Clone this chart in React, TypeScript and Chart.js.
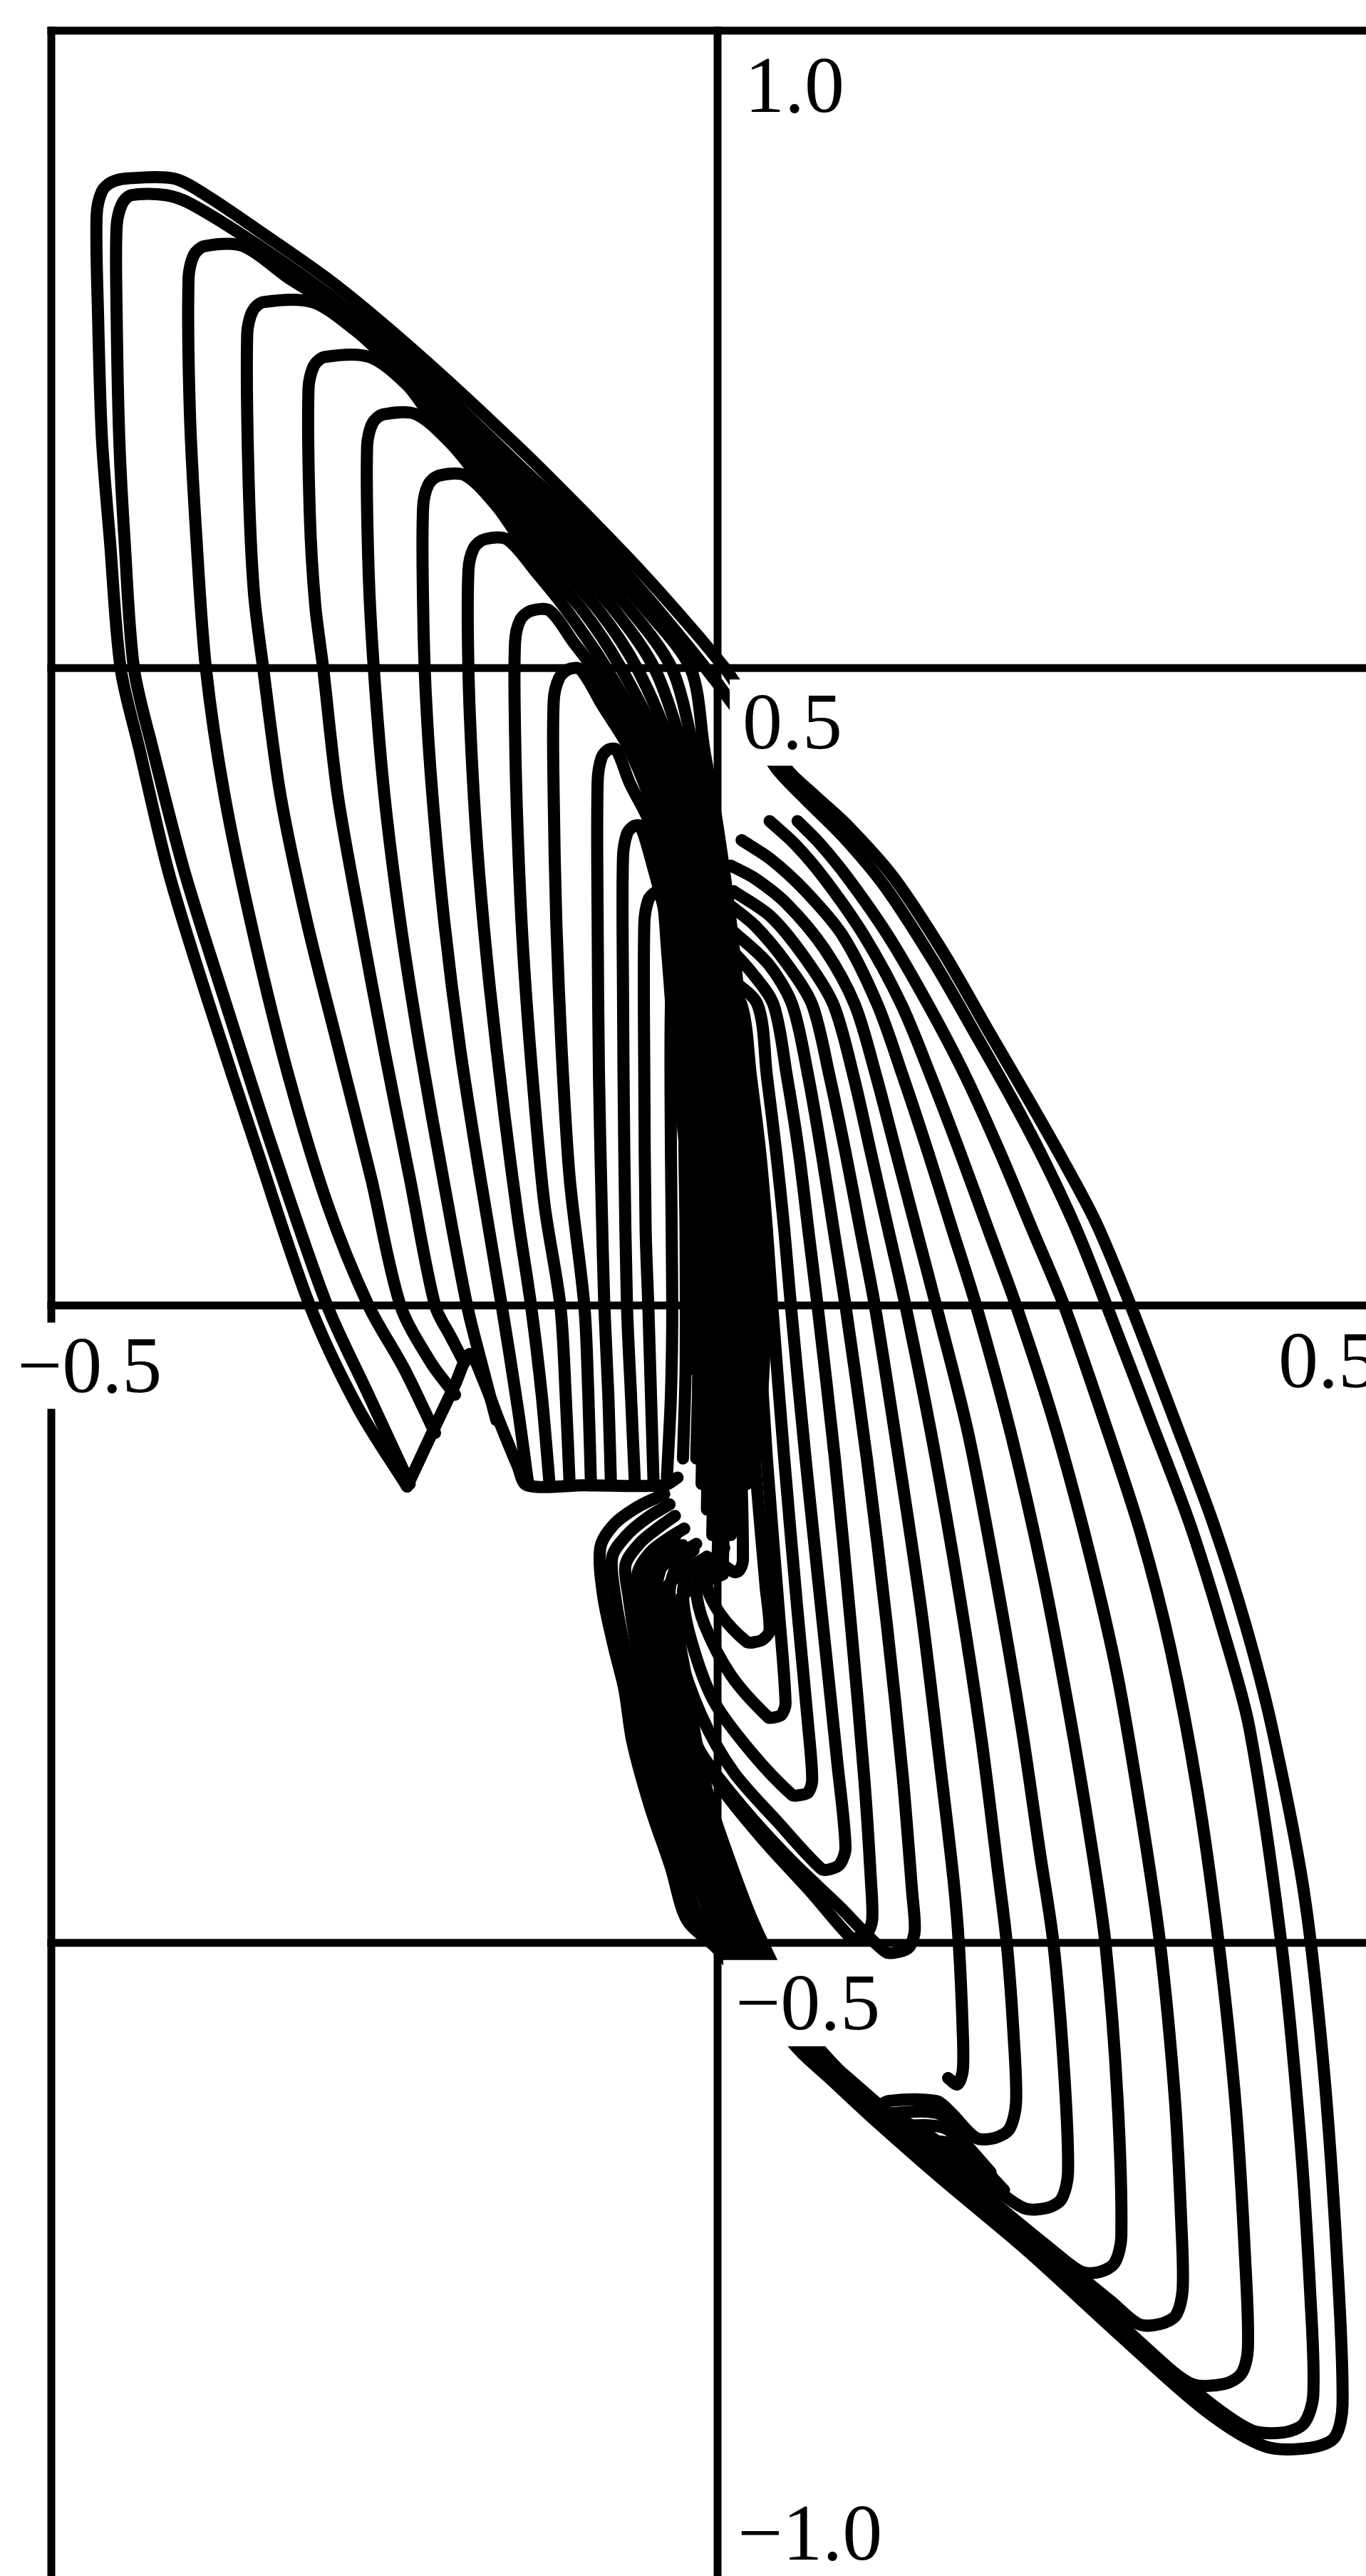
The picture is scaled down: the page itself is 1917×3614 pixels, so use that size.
import React, { useEffect, useRef } from 'react';
import { Chart, registerables } from 'chart.js';

Chart.register(...registerables);

type P = [number, number];

// Plot window (data units)
const X_MIN = -0.5;
const X_MAX = 0.4866;
const Y_MIN = -0.9966;
const Y_MAX = 1.0;

// Frame / grid lines
const GRID_X = [-0.5, 0];
const GRID_Y = [1.0, 0.5, 0, -0.5];

// Tick labels: text, anchor value, pixel offset of the text origin
const TICK_LABELS = [
  { text: '1.0', x: 0, y: 1.0, dx: 38, dy: 114, yAxis: true },
  { text: '0.5', x: 0, y: 0.5, dx: 35, dy: 113, yAxis: true },
  { text: '\u22120.5', x: 0, y: -0.5, dx: 25, dy: 121, yAxis: true },
  { text: '\u22121.0', x: 0, y: -1.0, dx: 28, dy: -29, yAxis: true },
  { text: '\u22120.5', x: -0.5, y: 0, dx: -48, dy: 121, yAxis: false },
  { text: '0.5', x: 0.5, y: 0, dx: -148, dy: 114, yAxis: false },
];

// Upper-left loops: left branch, from its lower end up to the top-left corner
const LEFT_SIDES: P[][] = [
  [[-0.233,-0.142],[-0.270,-0.08],[-0.306,0.0],[-0.345,0.12],[-0.383,0.241],[-0.412,0.34],[-0.434,0.437],[-0.448,0.50],[-0.456,0.60],[-0.462,0.68],[-0.465,0.78],[-0.466,0.855]],
  [[-0.231,-0.140],[-0.262,-0.07],[-0.293,0.0],[-0.333,0.12],[-0.370,0.24],[-0.400,0.34],[-0.424,0.437],[-0.438,0.50],[-0.445,0.60],[-0.449,0.68],[-0.451,0.78],[-0.451,0.846]],
  [[-0.212,-0.10],[-0.235,-0.05],[-0.262,0.0],[-0.293,0.08],[-0.322,0.18],[-0.348,0.29],[-0.370,0.40],[-0.384,0.50],[-0.391,0.60],[-0.396,0.70],[-0.397,0.806]],
  [[-0.197,-0.07],[-0.215,-0.045],[-0.238,0.0],[-0.260,0.10],[-0.284,0.20],[-0.308,0.30],[-0.328,0.40],[-0.341,0.50],[-0.348,0.56],[-0.352,0.65],[-0.353,0.762]],
  [[-0.190,-0.045],[-0.200,-0.025],[-0.212,0.0],[-0.231,0.10],[-0.250,0.20],[-0.268,0.30],[-0.285,0.40],[-0.296,0.50],[-0.302,0.55],[-0.306,0.62],[-0.307,0.719]],
  [[-0.166,-0.09],[-0.176,-0.05],[-0.188,0.0],[-0.206,0.10],[-0.223,0.20],[-0.238,0.30],[-0.250,0.40],[-0.258,0.50],[-0.262,0.58],[-0.263,0.674]],
  [[-0.142,-0.141],[-0.150,-0.08],[-0.162,0.0],[-0.178,0.10],[-0.193,0.20],[-0.205,0.30],[-0.214,0.40],[-0.219,0.48],[-0.221,0.55],[-0.221,0.626]],
  [[-0.126,-0.141],[-0.132,-0.07],[-0.140,0.0],[-0.150,0.07],[-0.160,0.15],[-0.171,0.25],[-0.179,0.34],[-0.184,0.42],[-0.187,0.50],[-0.187,0.576]],
  [[-0.111,-0.141],[-0.114,-0.07],[-0.118,0.0],[-0.130,0.08],[-0.139,0.18],[-0.146,0.28],[-0.150,0.37],[-0.152,0.45],[-0.152,0.520]],
  [[-0.095,-0.141],[-0.097,-0.07],[-0.100,0.0],[-0.111,0.10],[-0.117,0.20],[-0.121,0.30],[-0.123,0.40],[-0.123,0.474]],
  [[-0.080,-0.141],[-0.082,-0.07],[-0.085,0.0],[-0.087,0.08],[-0.089,0.18],[-0.090,0.30],[-0.090,0.411]],
  [[-0.062,-0.141],[-0.065,-0.07],[-0.068,0.0],[-0.070,0.12],[-0.071,0.25],[-0.071,0.351]],
  [[-0.048,-0.141],[-0.050,-0.07],[-0.052,0.0],[-0.054,0.06],[-0.055,0.18],[-0.055,0.299]],
  [[-0.038,-0.135],[-0.035,-0.07],[-0.034,0.0],[-0.035,0.12],[-0.035,0.236]],
  [[-0.026,-0.12],[-0.024,-0.05],[-0.024,0.05],[-0.025,0.175]],
  [[-0.015,-0.10],[-0.014,0.0],[-0.014,0.125]],
];

// Upper-left loops: rounded corner and flat top
const LEFT_TOPS: P[][] = [
  [[-0.462,0.874],[-0.455,0.881],[-0.444,0.884],[-0.408,0.884]],
  [[-0.447,0.864],[-0.440,0.871],[-0.414,0.871]],
  [[-0.393,0.824],[-0.385,0.831],[-0.356,0.831]],
  [[-0.349,0.780],[-0.341,0.787],[-0.304,0.787]],
  [[-0.303,0.737],[-0.295,0.744],[-0.261,0.744]],
  [[-0.259,0.692],[-0.251,0.699],[-0.226,0.699]],
  [[-0.217,0.644],[-0.209,0.651],[-0.189,0.651]],
  [[-0.183,0.594],[-0.175,0.601],[-0.158,0.601]],
  [[-0.148,0.538],[-0.140,0.545],[-0.126,0.545]],
  [[-0.119,0.492],[-0.112,0.499],[-0.103,0.499]],
  [[-0.087,0.430],[-0.082,0.436],[-0.076,0.436]],
  [[-0.068,0.370],[-0.063,0.376],[-0.058,0.376]],
  [[-0.052,0.318],[-0.047,0.324],[-0.042,0.324]],
  [[-0.032,0.255],[-0.028,0.261],[-0.025,0.261]],
  [[-0.022,0.194],[-0.019,0.200],[-0.015,0.200]],
  [[-0.011,0.144],[-0.008,0.150],[-0.006,0.150]],
];

// Upper-left loops: right branch running down into the central band
const LEFT_ENVELOPES: P[][] = [
  [[-0.384,0.871],[-0.347,0.845],[-0.286,0.800],[-0.218,0.740],[-0.148,0.672],[-0.100,0.622],[-0.055,0.573],[-0.016,0.527],[0.007,0.498]],
  [[-0.395,0.864],[-0.347,0.833],[-0.286,0.788],[-0.218,0.728],[-0.150,0.660],[-0.100,0.610],[-0.058,0.562],[-0.022,0.517],[0.000,0.488]],
  [[-0.322,0.806],[-0.293,0.787],[-0.238,0.744],[-0.197,0.699],[-0.150,0.651],[-0.103,0.601],[-0.053,0.545],[-0.020,0.499],[-0.010,0.436],[0.000,0.376],[0.010,0.30],[0.020,0.20],[0.030,0.10],[0.036,0.0],[0.032,-0.10]],
  [[-0.272,0.765],[-0.250,0.744],[-0.207,0.699],[-0.161,0.651],[-0.115,0.601],[-0.065,0.545],[-0.034,0.499],[-0.018,0.436],[-0.006,0.376],[0.004,0.30],[0.014,0.20],[0.024,0.10],[0.031,0.0],[0.028,-0.12]],
  [[-0.233,0.722],[-0.216,0.699],[-0.171,0.651],[-0.126,0.601],[-0.077,0.545],[-0.047,0.499],[-0.026,0.436],[-0.013,0.376],[-0.002,0.30],[0.008,0.20],[0.018,0.10],[0.026,0.0],[0.022,-0.14]],
  [[-0.200,0.676],[-0.180,0.651],[-0.137,0.601],[-0.089,0.545],[-0.060,0.499],[-0.034,0.436],[-0.020,0.376],[-0.008,0.30],[0.002,0.20],[0.012,0.10],[0.020,0.0],[0.016,-0.16]],
  [[-0.165,0.626],[-0.148,0.601],[-0.101,0.545],[-0.072,0.499],[-0.042,0.436],[-0.026,0.376],[-0.013,0.30],[-0.003,0.20],[0.006,0.10],[0.014,0.0],[0.010,-0.18]],
  [[-0.136,0.575],[-0.113,0.545],[-0.083,0.499],[-0.050,0.436],[-0.032,0.376],[-0.018,0.30],[-0.008,0.20],[0.001,0.10],[0.009,0.0],[0.004,-0.20]],
  [[-0.108,0.520],[-0.093,0.499],[-0.058,0.436],[-0.038,0.376],[-0.023,0.30],[-0.012,0.20],[-0.004,0.10],[0.004,0.0],[0.000,-0.20]],
  [[-0.086,0.470],[-0.066,0.436],[-0.044,0.376],[-0.028,0.30],[-0.016,0.20],[-0.008,0.10],[-0.001,0.0],[-0.004,-0.18]],
  [[-0.066,0.410],[-0.050,0.376],[-0.033,0.30],[-0.020,0.20],[-0.012,0.10],[-0.006,0.0],[-0.008,-0.16]],
  [[-0.050,0.350],[-0.038,0.30],[-0.024,0.20],[-0.016,0.10],[-0.010,0.0],[-0.012,-0.14]],
  [[-0.038,0.280],[-0.032,0.20],[-0.022,0.10],[-0.014,0.0],[-0.016,-0.12]],
  [[-0.022,0.220],[-0.018,0.15],[-0.018,0.05],[-0.018,-0.05]],
  [[-0.012,0.150],[-0.010,0.05],[-0.008,-0.05]],
  [[-0.003,0.100],[0.000,0.0]],
];

// Lower-right loops: right branch, from the central band down to the bottom-right corner
const RIGHT_SIDES: P[][] = [
  [[0.007,0.498],[0.030,0.462],[0.052,0.421],[0.073,0.400],[0.098,0.376],[0.132,0.336],[0.170,0.276],[0.203,0.216],[0.232,0.164],[0.257,0.118],[0.284,0.065],[0.310,0.0],[0.343,-0.09],[0.372,-0.171],[0.396,-0.25],[0.416,-0.331],[0.440,-0.46],[0.455,-0.60],[0.465,-0.75],[0.469,-0.862]],
  [[0.000,0.488],[0.025,0.452],[0.045,0.420],[0.067,0.396],[0.094,0.368],[0.126,0.328],[0.162,0.270],[0.194,0.212],[0.222,0.160],[0.246,0.112],[0.270,0.058],[0.292,0.0],[0.325,-0.09],[0.354,-0.17],[0.378,-0.25],[0.399,-0.331],[0.423,-0.50],[0.437,-0.65],[0.445,-0.78],[0.447,-0.855]],
  [[0.060,0.380],[0.077,0.362],[0.098,0.335],[0.128,0.29],[0.158,0.236],[0.186,0.18],[0.212,0.12],[0.236,0.06],[0.260,0.0],[0.290,-0.09],[0.318,-0.18],[0.340,-0.27],[0.360,-0.38],[0.376,-0.50],[0.389,-0.63],[0.396,-0.75],[0.398,-0.818]],
  [[0.039,0.380],[0.058,0.362],[0.080,0.335],[0.110,0.29],[0.138,0.236],[0.160,0.18],[0.182,0.12],[0.203,0.06],[0.224,0.0],[0.252,-0.09],[0.278,-0.19],[0.300,-0.29],[0.318,-0.40],[0.332,-0.50],[0.343,-0.62],[0.348,-0.72],[0.349,-0.772]],
  [[0.018,0.365],[0.040,0.350],[0.066,0.325],[0.094,0.29],[0.120,0.236],[0.139,0.18],[0.158,0.12],[0.176,0.06],[0.194,0.0],[0.220,-0.10],[0.244,-0.21],[0.264,-0.32],[0.280,-0.42],[0.291,-0.50],[0.300,-0.62],[0.303,-0.730]],
  [[0.010,0.345],[0.028,0.335],[0.052,0.315],[0.080,0.280],[0.103,0.236],[0.119,0.18],[0.134,0.12],[0.149,0.06],[0.164,0.0],[0.188,-0.10],[0.210,-0.22],[0.228,-0.33],[0.242,-0.43],[0.252,-0.50],[0.260,-0.60],[0.263,-0.680]],
  [[0.012,0.325],[0.040,0.305],[0.066,0.272],[0.087,0.236],[0.102,0.18],[0.115,0.12],[0.128,0.06],[0.141,0.0],[0.162,-0.11],[0.182,-0.23],[0.198,-0.34],[0.210,-0.44],[0.217,-0.50],[0.222,-0.57],[0.224,-0.625]],
  [[0.008,0.315],[0.028,0.298],[0.052,0.268],[0.071,0.236],[0.084,0.18],[0.096,0.12],[0.107,0.06],[0.118,0.0],[0.136,-0.12],[0.153,-0.24],[0.167,-0.36],[0.177,-0.45],[0.181,-0.50],[0.184,-0.57],[0.184,-0.600],[0.180,-0.611],[0.173,-0.606]],
  [[0.010,0.295],[0.038,0.268],[0.056,0.236],[0.068,0.18],[0.078,0.12],[0.087,0.06],[0.096,0.0],[0.112,-0.12],[0.127,-0.25],[0.139,-0.37],[0.146,-0.46],[0.148,-0.490]],
  [[0.005,0.285],[0.025,0.262],[0.042,0.236],[0.052,0.18],[0.061,0.12],[0.068,0.06],[0.075,0.0],[0.088,-0.12],[0.100,-0.25],[0.110,-0.37],[0.115,-0.45],[0.116,-0.482]],
  [[0.008,0.258],[0.030,0.236],[0.037,0.18],[0.044,0.12],[0.050,0.06],[0.055,0.0],[0.066,-0.12],[0.078,-0.24],[0.090,-0.36],[0.096,-0.425]],
  [[0.005,0.248],[0.018,0.236],[0.025,0.18],[0.032,0.12],[0.037,0.06],[0.041,0.0],[0.050,-0.12],[0.060,-0.24],[0.068,-0.33],[0.071,-0.372]],
  [[0.008,0.210],[0.015,0.18],[0.022,0.12],[0.027,0.06],[0.030,0.0],[0.037,-0.12],[0.046,-0.24],[0.051,-0.312]],
  [[0.008,0.160],[0.014,0.12],[0.019,0.06],[0.022,0.0],[0.028,-0.12],[0.036,-0.22],[0.039,-0.255]],
  [[0.008,0.100],[0.012,0.06],[0.015,0.0],[0.017,-0.10],[0.019,-0.200]],
];

// Lower-right loops: rounded corner and flat bottom
const RIGHT_BOTTOMS: P[][] = [
  [[0.463,-0.888],[0.445,-0.896],[0.411,-0.895]],
  [[0.440,-0.877],[0.425,-0.884],[0.400,-0.882]],
  [[0.393,-0.838],[0.380,-0.846],[0.356,-0.846]],
  [[0.344,-0.792],[0.332,-0.799],[0.316,-0.799]],
  [[0.298,-0.751],[0.287,-0.758],[0.273,-0.758]],
  [[0.258,-0.701],[0.247,-0.708],[0.230,-0.708]],
  [[0.219,-0.646],[0.208,-0.653],[0.194,-0.653]],
  [],
  [[0.144,-0.503],[0.136,-0.507],[0.126,-0.507]],
  [[0.112,-0.493],[0.105,-0.496],[0.100,-0.496]],
  [[0.092,-0.438],[0.085,-0.442],[0.078,-0.442]],
  [[0.068,-0.382],[0.062,-0.384],[0.056,-0.384]],
  [[0.048,-0.321],[0.043,-0.323],[0.038,-0.323]],
  [[0.034,-0.262],[0.028,-0.264],[0.022,-0.264]],
  [[0.016,-0.208],[0.012,-0.209]],
];

// Lower-right loops: lower-left branch climbing back towards the middle
const LOWER_ENVELOPES: P[][] = [
  [[0.365,-0.866],[0.300,-0.806],[0.233,-0.742],[0.167,-0.684],[0.118,-0.639],[0.085,-0.607],[0.062,-0.585],[0.030,-0.545],[0.000,-0.505],[-0.023,-0.482],[-0.035,-0.441],[-0.051,-0.392],[-0.064,-0.342],[-0.070,-0.301],[-0.078,-0.267],[-0.086,-0.227],[-0.088,-0.190],[-0.078,-0.172],[-0.060,-0.158],[-0.040,-0.148]],
  [[0.360,-0.853],[0.300,-0.797],[0.236,-0.737],[0.172,-0.678],[0.122,-0.633],[0.089,-0.601],[0.066,-0.580],[0.034,-0.540],[0.006,-0.500],[-0.015,-0.478],[-0.027,-0.441],[-0.043,-0.392],[-0.056,-0.342],[-0.062,-0.301],[-0.070,-0.267],[-0.077,-0.227],[-0.079,-0.197],[-0.068,-0.180],[-0.052,-0.166],[-0.036,-0.156]],
  [[0.330,-0.826],[0.300,-0.798],[0.240,-0.741],[0.180,-0.688],[0.130,-0.643],[0.095,-0.611],[0.070,-0.588],[0.040,-0.550],[0.010,-0.507],[-0.004,-0.482],[-0.019,-0.441],[-0.035,-0.392],[-0.048,-0.342],[-0.054,-0.301],[-0.061,-0.267],[-0.067,-0.227],[-0.069,-0.203],[-0.058,-0.186],[-0.044,-0.174],[-0.032,-0.165]],
  [[0.295,-0.781],[0.240,-0.734],[0.182,-0.682],[0.132,-0.637],[0.098,-0.606],[0.073,-0.584],[0.045,-0.550],[0.018,-0.510],[0.004,-0.482],[-0.011,-0.441],[-0.027,-0.392],[-0.040,-0.342],[-0.046,-0.301],[-0.052,-0.267],[-0.058,-0.230],[-0.060,-0.210],[-0.050,-0.193],[-0.036,-0.182],[-0.025,-0.175]],
  [[0.250,-0.740],[0.200,-0.697],[0.150,-0.652],[0.112,-0.620],[0.084,-0.592],[0.055,-0.555],[0.028,-0.512],[0.012,-0.482],[-0.003,-0.441],[-0.019,-0.392],[-0.032,-0.342],[-0.038,-0.301],[-0.044,-0.267],[-0.049,-0.235],[-0.050,-0.218],[-0.040,-0.203],[-0.026,-0.193],[-0.016,-0.187]],
  [[0.205,-0.690],[0.160,-0.652],[0.120,-0.628],[0.090,-0.600],[0.062,-0.563],[0.036,-0.515],[0.019,-0.482],[0.004,-0.441],[-0.011,-0.392],[-0.024,-0.342],[-0.030,-0.301],[-0.036,-0.267],[-0.040,-0.240],[-0.040,-0.225],[-0.030,-0.212],[-0.016,-0.203],[-0.006,-0.198]],
  [[0.175,-0.633],[0.164,-0.624],[0.128,-0.624],[0.116,-0.630],[0.094,-0.606],[0.068,-0.572],[0.043,-0.520],[0.026,-0.482],[0.011,-0.441],[-0.005,-0.392],[-0.016,-0.342],[-0.022,-0.301],[-0.028,-0.267],[-0.031,-0.245],[-0.029,-0.232],[-0.020,-0.222],[-0.006,-0.215],[0.004,-0.211]],
  [],
  [[0.090,-0.470],[0.055,-0.435],[0.020,-0.395],[-0.013,-0.350],[-0.035,-0.300],[-0.050,-0.250],[-0.054,-0.215],[-0.046,-0.195],[-0.032,-0.182]],
  [[0.070,-0.460],[0.035,-0.420],[0.002,-0.377],[-0.022,-0.330],[-0.040,-0.272],[-0.046,-0.225],[-0.040,-0.200],[-0.026,-0.188]],
  [[0.045,-0.405],[0.012,-0.366],[-0.012,-0.322],[-0.030,-0.268],[-0.036,-0.225],[-0.030,-0.203],[-0.018,-0.192]],
  [[0.025,-0.350],[-0.003,-0.310],[-0.020,-0.262],[-0.026,-0.225],[-0.020,-0.206],[-0.008,-0.197]],
  [[0.010,-0.290],[-0.010,-0.250],[-0.016,-0.222],[-0.010,-0.206],[0.000,-0.200]],
  [[0.002,-0.242],[-0.008,-0.220],[-0.004,-0.205],[0.004,-0.198]],
  [[0.002,-0.200],[0.005,-0.190]],
];

// V-shaped notch and the flat floor under the upper-left loops
const BASE_PATH: P[] = [[-0.233,-0.142],[-0.212,-0.095],[-0.197,-0.062],[-0.186,-0.038],[-0.176,-0.058],[-0.163,-0.093],[-0.150,-0.126],[-0.143,-0.141],[-0.100,-0.141],[-0.040,-0.141],[-0.030,-0.135]];

// Dense wedge where the lower loops crowd together
const BLOCK_LINES: P[][] = [
  [[0.122,-0.634],[0.166,-0.634],[0.184,-0.655],[0.205,-0.680]],
  [[0.126,-0.644],[0.170,-0.645],[0.192,-0.668],[0.215,-0.694]],
  [[0.140,-0.655],[0.176,-0.658],[0.200,-0.683]],
];

const LINE_WIDTH = 17;
const LINE_TENSION = 0.3;
const FRAME_WIDTH = 11;
const LABEL_FONT = '112px "Liberation Serif", "Times New Roman", serif';

function buildPaths(): P[][] {
  const paths: P[][] = [];
  LEFT_SIDES.forEach((side, i) => {
    paths.push([...side, ...LEFT_TOPS[i], ...LEFT_ENVELOPES[i]]);
  });
  RIGHT_SIDES.forEach((side, i) => {
    paths.push([...side, ...RIGHT_BOTTOMS[i], ...LOWER_ENVELOPES[i]]);
  });
  paths.push(BASE_PATH);
  BLOCK_LINES.forEach((b) => paths.push(b));
  return paths;
}

const framePlugin = {
  id: 'frameLines',
  beforeDatasetsDraw(chart: any) {
    const { ctx } = chart;
    const xs = chart.scales.x;
    const ys = chart.scales.y;
    ctx.save();
    ctx.strokeStyle = '#000';
    ctx.lineWidth = FRAME_WIDTH;
    ctx.lineCap = 'butt';
    const left = xs.getPixelForValue(-0.5) - FRAME_WIDTH / 2;
    const top = ys.getPixelForValue(1.0) - FRAME_WIDTH / 2;
    GRID_Y.forEach((v) => {
      const y = ys.getPixelForValue(v);
      ctx.beginPath();
      ctx.moveTo(left, y);
      ctx.lineTo(chart.width, y);
      ctx.stroke();
    });
    GRID_X.forEach((v) => {
      const x = xs.getPixelForValue(v);
      ctx.beginPath();
      ctx.moveTo(x, top);
      ctx.lineTo(x, chart.height);
      ctx.stroke();
    });
    ctx.restore();
  },
};

const labelPlugin = {
  id: 'tickLabels',
  afterDatasetsDraw(chart: any) {
    const { ctx } = chart;
    const xs = chart.scales.x;
    const ys = chart.scales.y;
    const axisX = xs.getPixelForValue(0);
    ctx.save();
    ctx.font = LABEL_FONT;
    ctx.textAlign = 'left';
    ctx.textBaseline = 'alphabetic';
    TICK_LABELS.forEach((l) => {
      const px = xs.getPixelForValue(l.x) + l.dx;
      const py = ys.getPixelForValue(l.y) + l.dy;
      const m = ctx.measureText(l.text);
      const pad = 22;
      let bx0 = px - m.actualBoundingBoxLeft - pad;
      const bx1 = px + m.actualBoundingBoxRight + pad;
      const by0 = py - m.actualBoundingBoxAscent - pad;
      const by1 = py + m.actualBoundingBoxDescent + pad;
      if (l.yAxis) bx0 = Math.max(bx0, axisX + FRAME_WIDTH / 2 + 1);
      ctx.fillStyle = '#fff';
      ctx.fillRect(bx0, by0, bx1 - bx0, by1 - by0);
      ctx.fillStyle = '#000';
      ctx.fillText(l.text, px, py);
    });
    ctx.restore();
  },
};

export default function App() {
  const canvasRef = useRef<HTMLCanvasElement>(null);

  useEffect(() => {
    document.body.style.margin = '0';
    const canvas = canvasRef.current;
    if (!canvas) return;
    const datasets = buildPaths().map((path) => ({
      data: path.map(([x, y]) => ({ x, y })),
      showLine: true,
      borderColor: '#000',
      backgroundColor: '#000',
      borderWidth: LINE_WIDTH,
      pointRadius: 0,
      pointHoverRadius: 0,
      fill: false,
      tension: LINE_TENSION,
      borderJoinStyle: 'round' as const,
      borderCapStyle: 'round' as const,
    }));
    const chart = new Chart(canvas, {
      type: 'scatter',
      data: { datasets },
      options: {
        animation: false,
        responsive: false,
        maintainAspectRatio: false,
        devicePixelRatio: 1,
        events: [],
        layout: { padding: { left: 72, top: 43, right: 0, bottom: 0 } },
        plugins: {
          legend: { display: false },
          tooltip: { enabled: false },
        },
        scales: {
          x: { type: 'linear', min: X_MIN, max: X_MAX, display: false },
          y: { type: 'linear', min: Y_MIN, max: Y_MAX, display: false },
        },
      },
      plugins: [framePlugin, labelPlugin],
    });
    return () => chart.destroy();
  }, []);

  return (
    <div style={{ position: 'absolute', left: 0, top: 0, width: 1917, height: 3614, background: '#fff' }}>
      <canvas ref={canvasRef} width={1917} height={3614} style={{ display: 'block', width: '1917px', height: '3614px' }} />
    </div>
  );
}
